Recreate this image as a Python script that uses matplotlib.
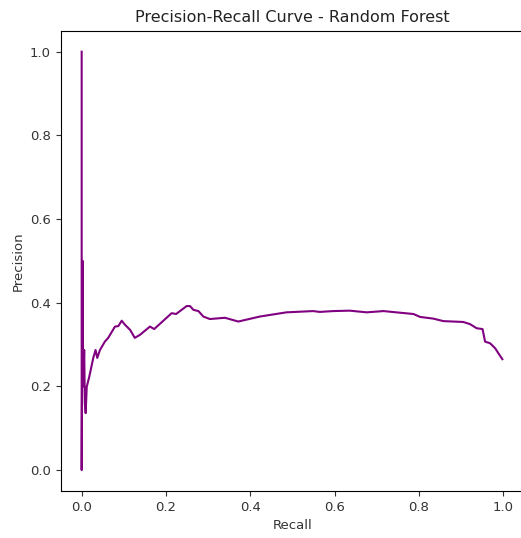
import matplotlib
matplotlib.use('Agg')
import matplotlib.pyplot as plt

# values (recall, precision)
recall = [0.0, 0.0, 0.0024, 0.0035, 0.006, 0.0075, 0.0095, 0.012, 0.018,
          0.0275, 0.033, 0.037, 0.0434, 0.055, 0.063, 0.079, 0.087, 0.095,
          0.103, 0.115, 0.126, 0.138, 0.162, 0.172, 0.2135, 0.224, 0.249,
          0.257, 0.265, 0.277, 0.2885, 0.304, 0.340, 0.3715, 0.423, 0.486,
          0.549, 0.565, 0.597, 0.636, 0.676, 0.716, 0.787, 0.803, 0.834,
          0.858, 0.905, 0.921, 0.937, 0.951, 0.957, 0.969, 0.981, 0.988,
          0.998]
precision = [1.0, 0.0, 0.50, 0.20, 0.287, 0.16, 0.136, 0.199, 0.223,
             0.268, 0.287, 0.268, 0.287, 0.307, 0.316, 0.343, 0.344, 0.357,
             0.347, 0.335, 0.316, 0.323, 0.343, 0.337, 0.375, 0.373, 0.392,
             0.392, 0.383, 0.380, 0.367, 0.361, 0.364, 0.355, 0.367, 0.377,
             0.380, 0.378, 0.380, 0.381, 0.377, 0.380, 0.373, 0.366, 0.362,
             0.356, 0.354, 0.349, 0.339, 0.337, 0.307, 0.303, 0.291, 0.280,
             0.265]

fig = plt.figure(figsize=(5.21, 5.38), dpi=100)
# right spine falls just outside the cropped reference image
ax = fig.add_axes([0.1163, 0.0874, 0.890, 0.8554])
ax.plot(recall, precision, color='purple', linewidth=1.5)
ax.set_xlim(-0.05, 1.05)
ax.set_ylim(-0.05, 1.05)
ax.set_xticks([0.0, 0.2, 0.4, 0.6, 0.8, 1.0])
ax.set_yticks([0.0, 0.2, 0.4, 0.6, 0.8, 1.0])
ax.tick_params(labelsize=9.5, colors='#333333', labelcolor='#333333')
ax.set_xlabel('Recall', fontsize=9.5, color='#333333')
ax.set_ylabel('Precision', fontsize=9.5, color='#333333')
ax.set_title('Precision-Recall Curve - Random Forest', fontsize=11.5, color='#222222')

plt.savefig('out.png', dpi=100)
